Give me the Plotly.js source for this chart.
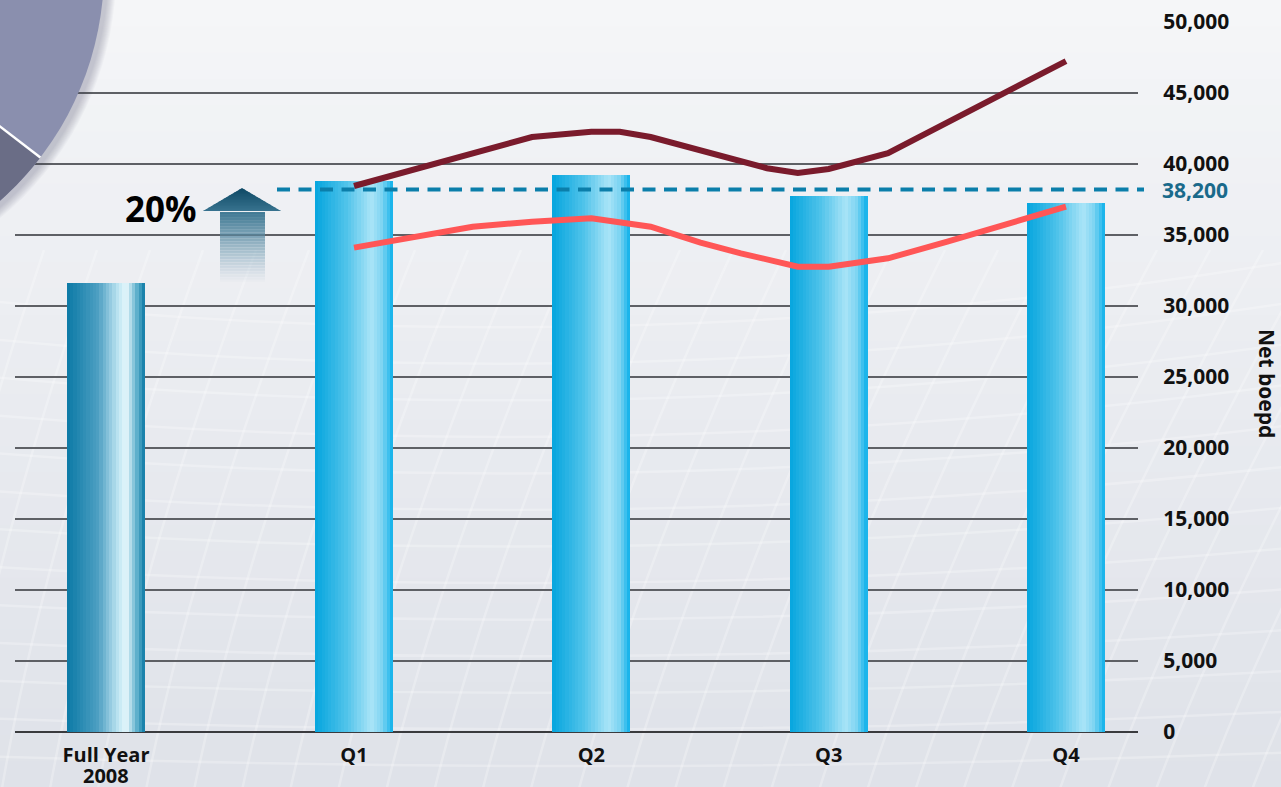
<!DOCTYPE html>
<html>
<head>
<meta charset="utf-8">
<script src="https://cdn.plot.ly/plotly-3.0.1.min.js"></script>
<style>
  html, body { margin: 0; padding: 0; background: #e9ebf0; }
  #chart { width: 1281px; height: 787px; }
</style>
</head>
<body>
<div id="chart"></div>
<script>
// ---- data ----
const categories = ['Full Year', 'Q1', 'Q2', 'Q3', 'Q4'];
const categorySubLabel = '2008';
const netBoepd = [31620, 38800, 39230, 37750, 37230];
const quarterAverage = 38200;
const averageLabel = '38,200';
const growthLabel = '20%';

// two quarterly profiles, x in quarter units (1 = Q1 ... 4 = Q4)
const upperLineX = [1, 1.75, 2, 2.12, 2.25, 2.46, 2.63, 2.74, 2.87, 3, 3.25, 3.5, 4];
const upperLineY = [38450, 41900, 42270, 42270, 41900, 40920, 40210, 39700, 39370, 39650, 40770, 42960, 47250];
const lowerLineX = [1, 1.5, 1.75, 2, 2.25, 2.46, 2.63, 2.87, 3, 3.25, 3.5, 4];
const lowerLineY = [34110, 35580, 35940, 36180, 35580, 34470, 33710, 32770, 32770, 33360, 34530, 36990];

const yTickVals = [0, 5000, 10000, 15000, 20000, 25000, 30000, 35000, 40000, 45000, 50000];

// ---- layout geometry ----
const slotX = [-0.045, 1, 2, 3, 4];
const barWidth = 0.3287;
const W = 1281, H = 787;
const M = { l: 15, r: 143, t: 22, b: 55 };
const PW = W - M.l - M.r, PH = H - M.t - M.b;
const fx = x => (x - M.l) / PW;          // canvas px -> paper x
const fy = y => (H - M.b - y) / PH;      // canvas px -> paper y

const FONT = 'Open Sans, Noto Sans, sans-serif';

function hex(c) { return [parseInt(c.slice(1,3),16), parseInt(c.slice(3,5),16), parseInt(c.slice(5,7),16)]; }
function mix(a, b, t) { const A = hex(a), B = hex(b); return 'rgb(' + A.map((v,i) => Math.round(v + (B[i]-v)*t)).join(',') + ')'; }
function gradientAt(stops, t) {
  for (let i = 1; i < stops.length; i++) {
    if (t <= stops[i][0]) {
      const s0 = stops[i-1], s1 = stops[i];
      return mix(s0[1], s1[1], (t - s0[0]) / (s1[0] - s0[0]));
    }
  }
  return stops[stops.length-1][1];
}

// horizontal shading of the columns
const quarterStops = [[0, '#05a5de'], [0.4, '#50c3ea'], [0.72, '#a9e4f7'], [0.86, '#7dd4f2'], [1, '#0bb0ea']];
const annualStops  = [[0, '#0a79a6'], [0.4, '#4e9fc2'], [0.66, '#bfe6f3'], [0.76, '#e6f7fc'], [0.9, '#5aaecb'], [1, '#0a78a4']];

const traces = [];
const STRIPS = 24;
for (let i = 0; i < STRIPS; i++) {
  const t = (i + 0.5) / STRIPS;
  traces.push({
    type: 'bar',
    x: slotX,
    y: netBoepd,
    width: barWidth / STRIPS + 0.0004,
    offset: -barWidth / 2 + i * barWidth / STRIPS,
    marker: { color: categories.map((c, k) => gradientAt(k === 0 ? annualStops : quarterStops, t)), line: { width: 0 } },
    hoverinfo: 'skip',
    showlegend: false
  });
}

traces.push({
  type: 'scatter', mode: 'lines',
  x: lowerLineX, y: lowerLineY,
  line: { color: '#ff5656', width: 6 },
  hoverinfo: 'skip', showlegend: false
});
traces.push({
  type: 'scatter', mode: 'lines',
  x: upperLineX, y: upperLineY,
  line: { color: '#7a1b2c', width: 6 },
  hoverinfo: 'skip', showlegend: false
});

// ---- decorative shapes ----
const shapes = [];

// background wash, lighter at the top
const BANDS = 30;
for (let i = 0; i < BANDS; i++) {
  const y0 = i * H / BANDS, y1 = (i + 1) * H / BANDS + 1;
  shapes.push({
    type: 'rect', xref: 'paper', yref: 'paper', layer: 'below',
    x0: fx(0), x1: fx(W), y0: fy(y1), y1: fy(y0),
    fillcolor: mix('#f5f6f8', '#dfe2e9', Math.pow(i / (BANDS - 1), 0.9)),
    line: { width: 0 }
  });
}

// faint warped mesh in the background
function curve(p0, c, p1, color, width) {
  shapes.push({
    type: 'path', xref: 'paper', yref: 'paper', layer: 'below',
    path: 'M' + fx(p0[0]) + ',' + fy(p0[1]) + ' Q' + fx(c[0]) + ',' + fy(c[1]) + ' ' + fx(p1[0]) + ',' + fy(p1[1]),
    line: { color: color, width: width }
  });
}
for (let k = -8; k < 34; k++) {
  const bx = k * 48;
  curve([bx, 800], [bx + 40 + k * 2, 560], [bx + 150 + k * 5, 250], 'rgba(255,255,255,0.26)', 2.5);
}
for (let k = 0; k < 14; k++) {
  const by = 300 + k * 38;
  curve([-20, by], [640, by + 70 - k * 4], [1300, by - 40 + k * 3], 'rgba(255,255,255,0.26)', 2.5);
}

// disc in the upper-left corner
const cx = -204, cy = -30, R = 308;
for (let s = 9; s >= 1; s--) {
  shapes.push({
    type: 'circle', xref: 'paper', yref: 'paper', layer: 'above',
    x0: fx(cx - R - s + 3), x1: fx(cx + R + s + 3), y0: fy(cy + R + s + 3), y1: fy(cy - R - s + 3),
    fillcolor: 'rgba(70,72,85,0.03)', line: { width: 0 }
  });
}
shapes.push({
  type: 'circle', xref: 'paper', yref: 'paper', layer: 'above',
  x0: fx(cx - R), x1: fx(cx + R), y0: fy(cy + R), y1: fy(cy - R),
  fillcolor: '#8a8fae', line: { width: 0 }
});
const a0 = 37.5 * Math.PI / 180, a1 = 120 * Math.PI / 180;
let wedge = 'M' + fx(cx) + ',' + fy(cy);
for (let i = 0; i <= 60; i++) {
  const a = a0 + (a1 - a0) * i / 60;
  wedge += ' L' + fx(cx + R * Math.cos(a)) + ',' + fy(cy + R * Math.sin(a));
}
wedge += ' Z';
shapes.push({ type: 'path', xref: 'paper', yref: 'paper', layer: 'above', path: wedge, fillcolor: '#6a6d86', line: { width: 0 } });
shapes.push({
  type: 'line', xref: 'paper', yref: 'paper', layer: 'above',
  x0: fx(cx), y0: fy(cy), x1: fx(cx + R * Math.cos(a0)), y1: fy(cy + R * Math.sin(a0)),
  line: { color: '#ffffff', width: 2.5 }
});

// growth arrow: dark at the tip, fading out downwards
const tipX = 242, tipY = 188, baseY = 211, halfHead = 39, shaftL = 220, shaftR = 265, endY = 282;
const STEP = 1.5;
for (let y = tipY; y < endY; y += STEP) {
  const yb = Math.min(y + STEP + 0.4, endY);
  const t = (y - tipY) / (endY - tipY);
  const col = t < 0.25 ? mix('#0f4a66', '#3a7591', t / 0.25) : mix('#3a7591', '#9ab8c8', (t - 0.25) / 0.75);
  const alpha = t < 0.25 ? 1 : Math.max(0, 1 - (t - 0.25) / 0.75) * 0.95;
  let path;
  if (y < baseY) {
    const y2 = Math.min(yb, baseY);
    const h0 = halfHead * (y - tipY) / (baseY - tipY), h1 = halfHead * (y2 - tipY) / (baseY - tipY);
    path = 'M' + fx(tipX - h0) + ',' + fy(y) + ' L' + fx(tipX + h0) + ',' + fy(y) +
           ' L' + fx(tipX + h1) + ',' + fy(y2) + ' L' + fx(tipX - h1) + ',' + fy(y2) + ' Z';
  } else {
    path = 'M' + fx(shaftL) + ',' + fy(y) + ' L' + fx(shaftR) + ',' + fy(y) +
           ' L' + fx(shaftR) + ',' + fy(yb) + ' L' + fx(shaftL) + ',' + fy(yb) + ' Z';
  }
  shapes.push({ type: 'path', xref: 'paper', yref: 'paper', layer: 'above', path: path, fillcolor: col, opacity: alpha, line: { width: 0 } });
}

// quarterly average reference line
shapes.push({
  type: 'line', xref: 'paper', yref: 'y', layer: 'above',
  x0: fx(277), x1: fx(1144), y0: quarterAverage, y1: quarterAverage,
  line: { color: '#0b7eaa', width: 4, dash: '13px,8.5px' }
});

const annotations = [
  { xref: 'x', yref: 'paper', x: slotX[0], y: fy(776), text: categorySubLabel, showarrow: false, height: 19,
    font: { family: FONT, size: 20, color: '#111111', weight: 700 }, xanchor: 'center', yanchor: 'middle' },
  { xref: 'paper', yref: 'y', x: 1, xanchor: 'left', xshift: 22, y: quarterAverage, yanchor: 'middle',
    text: averageLabel, showarrow: false, font: { family: FONT, size: 21, color: '#1a6a8b', weight: 700 } },
  { xref: 'paper', yref: 'paper', x: fx(161), y: fy(208), xanchor: 'center', yanchor: 'middle',
    text: growthLabel, showarrow: false,
    font: { family: FONT, size: 35, color: '#000000', weight: 700 } },
  { xref: 'paper', yref: 'paper', x: fx(1267), y: fy(383), xanchor: 'center', yanchor: 'middle',
    text: 'Net boepd', textangle: 90, showarrow: false,
    font: { family: FONT, size: 21, color: '#111111', weight: 700 } }
];

const layout = {
  width: W, height: H,
  margin: M,
  paper_bgcolor: '#e9ebf0',
  plot_bgcolor: 'rgba(0,0,0,0)',
  barmode: 'overlay',
  bargap: 0,
  showlegend: false,
  xaxis: {
    type: 'linear',
    range: [-0.4284, 4.3034],
    tickvals: slotX,
    ticktext: categories,
    showgrid: false, zeroline: false, showline: false,
    ticks: 'outside', ticklen: 5, tickcolor: 'rgba(0,0,0,0)',
    tickfont: { family: FONT, size: 20, color: '#111111', weight: 700 },
    fixedrange: true
  },
  yaxis: {
    side: 'right',
    range: [0, 50000],
    tickvals: yTickVals,
    tickformat: ',d',
    showgrid: true, gridcolor: '#5e6065', gridwidth: 1.5,
    zeroline: true, zerolinecolor: '#3a3b3e', zerolinewidth: 2,
    showline: false,
    ticks: 'outside', ticklen: 20, tickcolor: 'rgba(0,0,0,0)',
    tickfont: { family: FONT, size: 21, color: '#111111', weight: 700 },
    fixedrange: true
  },
  shapes: shapes,
  annotations: annotations
};

Plotly.newPlot('chart', traces, layout, { displayModeBar: false, staticPlot: true });
</script>
</body>
</html>
